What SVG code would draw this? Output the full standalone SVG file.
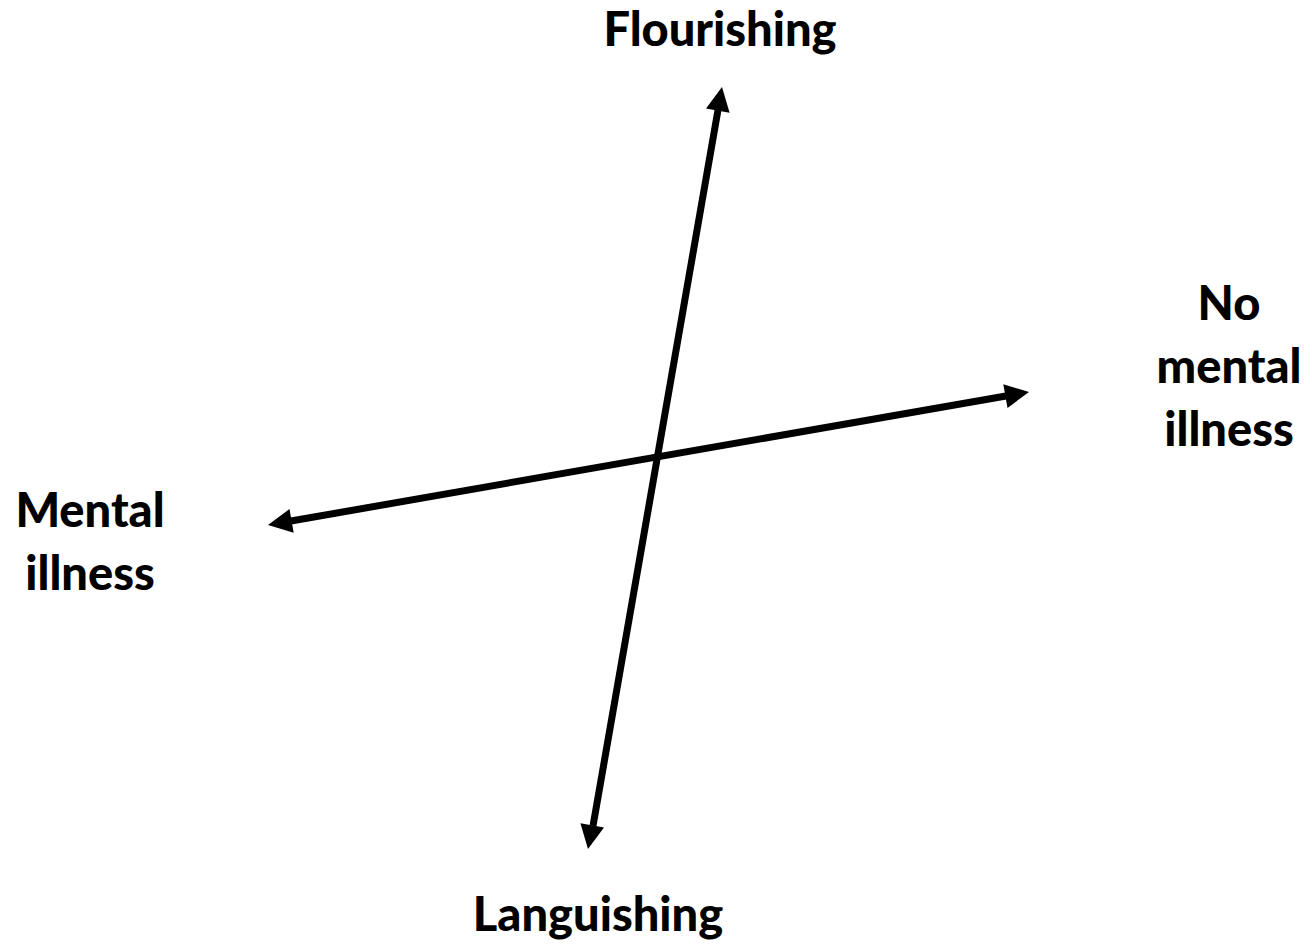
<svg xmlns="http://www.w3.org/2000/svg" width="1312" height="944" viewBox="0 0 1312 944">
<style>
.lbl{font-family:Lato,"Open Sans","Liberation Sans",sans-serif;font-weight:900;font-size:47px;fill:#000;text-anchor:middle}
.ax{stroke:#000;stroke-width:7;fill:none}
.hd{fill:#000}
</style>
<rect width="1312" height="944" fill="#fff"/>
<g id="connectors">
<line class="ax" x1="593" y1="826" x2="718" y2="110"/>
<polygon class="hd" points="722,87 729.6,112.7 706,108.5"/>
<polygon class="hd" points="588,849 604,827.5 580.4,823.3"/>
<line class="ax" x1="291" y1="521" x2="1006" y2="396"/>
<polygon class="hd" points="1029,392 1007.5,407.9 1003.3,384.3"/>
<polygon class="hd" points="268,525 293.7,532.7 289.5,509.1"/>
</g>
<g id="flourishing"><text class="lbl" x="720" y="46">Flourishing</text></g>
<g id="languishing"><text class="lbl" x="598" y="931">Languishing</text></g>
<g id="no-mental-illness"><text class="lbl" x="1229" y="320">No</text><text class="lbl" x="1229" y="383">mental</text><text class="lbl" x="1229" y="446">illness</text></g>
<g id="mental-illness"><text class="lbl" x="90" y="527">Mental</text><text class="lbl" x="90" y="590">illness</text></g>
</svg>
